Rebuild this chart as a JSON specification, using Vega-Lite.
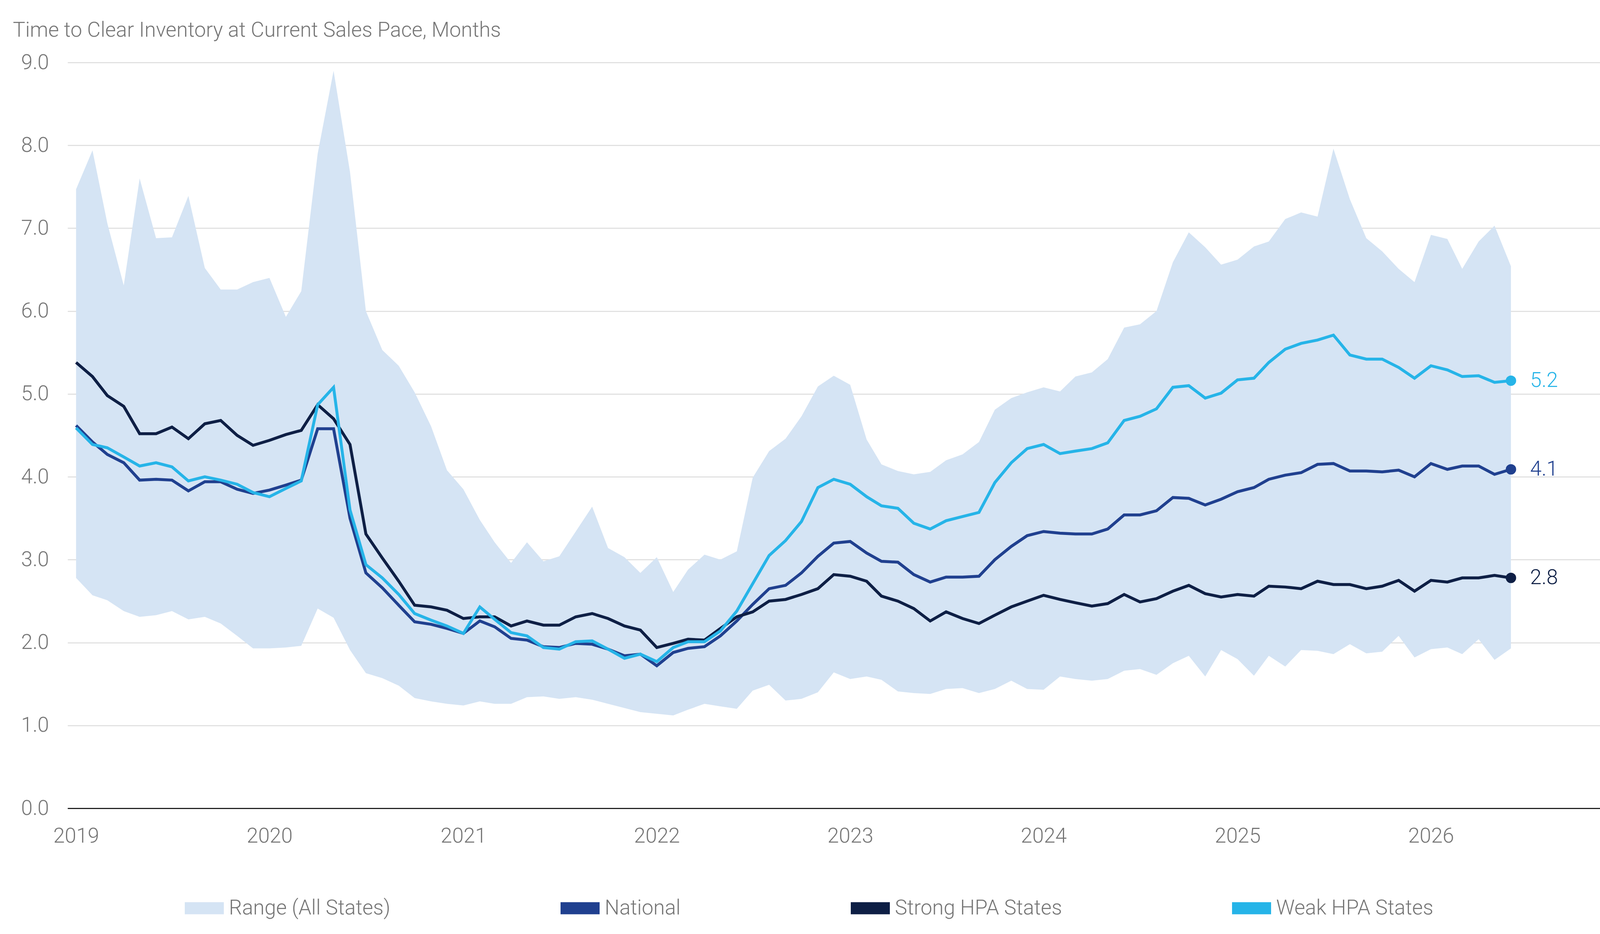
{
  "$schema": "https://vega.github.io/schema/vega-lite/v6.json",
  "width": 4100,
  "height": 2392,
  "autosize": {"type": "fit", "contains": "padding"},
  "padding": {"left": 33, "top": 52, "right": 0, "bottom": 224},
  "background": "white",
  "title": {
    "text": "Time to Clear Inventory at Current Sales Pace, Months",
    "anchor": "start",
    "frame": "group",
    "dx": -140,
    "offset": -13,
    "baseline": "alphabetic",
    "font": "Roboto",
    "fontSize": 53,
    "fontWeight": 300,
    "color": "#767676"
  },
  "config": {
    "view": {"stroke": null},
    "font": "Roboto",
    "axis": {
      "labelFont": "Roboto",
      "labelFontSize": 53,
      "labelFontWeight": 300,
      "labelColor": "#767676",
      "ticks": false,
      "tickSize": 0,
      "title": null
    }
  },
  "data": {
    "values": [
      {"date": "2019-01-01", "hi": 7.47, "lo": 2.78, "nat": 4.62, "strong": 5.38, "weak": 4.59},
      {"date": "2019-02-01", "hi": 7.94, "lo": 2.57, "nat": 4.42, "strong": 5.21, "weak": 4.39},
      {"date": "2019-03-01", "hi": 7.06, "lo": 2.51, "nat": 4.27, "strong": 4.98, "weak": 4.35},
      {"date": "2019-04-01", "hi": 6.31, "lo": 2.38, "nat": 4.17, "strong": 4.85, "weak": 4.24},
      {"date": "2019-05-01", "hi": 7.60, "lo": 2.31, "nat": 3.96, "strong": 4.52, "weak": 4.13},
      {"date": "2019-06-01", "hi": 6.88, "lo": 2.33, "nat": 3.97, "strong": 4.52, "weak": 4.17},
      {"date": "2019-07-01", "hi": 6.89, "lo": 2.38, "nat": 3.96, "strong": 4.60, "weak": 4.12},
      {"date": "2019-08-01", "hi": 7.39, "lo": 2.28, "nat": 3.83, "strong": 4.46, "weak": 3.95},
      {"date": "2019-09-01", "hi": 6.52, "lo": 2.31, "nat": 3.94, "strong": 4.64, "weak": 4.00},
      {"date": "2019-10-01", "hi": 6.26, "lo": 2.23, "nat": 3.94, "strong": 4.68, "weak": 3.96},
      {"date": "2019-11-01", "hi": 6.26, "lo": 2.08, "nat": 3.85, "strong": 4.50, "weak": 3.91},
      {"date": "2019-12-01", "hi": 6.35, "lo": 1.93, "nat": 3.80, "strong": 4.38, "weak": 3.81},
      {"date": "2020-01-01", "hi": 6.40, "lo": 1.93, "nat": 3.84, "strong": 4.44, "weak": 3.76},
      {"date": "2020-02-01", "hi": 5.93, "lo": 1.94, "nat": 3.90, "strong": 4.51, "weak": 3.86},
      {"date": "2020-03-01", "hi": 6.24, "lo": 1.96, "nat": 3.96, "strong": 4.56, "weak": 3.95},
      {"date": "2020-04-01", "hi": 7.90, "lo": 2.41, "nat": 4.58, "strong": 4.87, "weak": 4.87},
      {"date": "2020-05-01", "hi": 8.90, "lo": 2.30, "nat": 4.58, "strong": 4.70, "weak": 5.08},
      {"date": "2020-06-01", "hi": 7.68, "lo": 1.91, "nat": 3.50, "strong": 4.39, "weak": 3.60},
      {"date": "2020-07-01", "hi": 6.00, "lo": 1.63, "nat": 2.84, "strong": 3.31, "weak": 2.94},
      {"date": "2020-08-01", "hi": 5.53, "lo": 1.57, "nat": 2.66, "strong": 3.02, "weak": 2.78},
      {"date": "2020-09-01", "hi": 5.34, "lo": 1.48, "nat": 2.45, "strong": 2.74, "weak": 2.58},
      {"date": "2020-10-01", "hi": 5.02, "lo": 1.33, "nat": 2.25, "strong": 2.45, "weak": 2.35},
      {"date": "2020-11-01", "hi": 4.61, "lo": 1.29, "nat": 2.22, "strong": 2.43, "weak": 2.27},
      {"date": "2020-12-01", "hi": 4.08, "lo": 1.26, "nat": 2.17, "strong": 2.39, "weak": 2.20},
      {"date": "2021-01-01", "hi": 3.85, "lo": 1.24, "nat": 2.11, "strong": 2.29, "weak": 2.11},
      {"date": "2021-02-01", "hi": 3.48, "lo": 1.29, "nat": 2.26, "strong": 2.31, "weak": 2.43},
      {"date": "2021-03-01", "hi": 3.21, "lo": 1.26, "nat": 2.19, "strong": 2.31, "weak": 2.28},
      {"date": "2021-04-01", "hi": 2.96, "lo": 1.26, "nat": 2.05, "strong": 2.20, "weak": 2.12},
      {"date": "2021-05-01", "hi": 3.21, "lo": 1.34, "nat": 2.03, "strong": 2.26, "weak": 2.08},
      {"date": "2021-06-01", "hi": 2.98, "lo": 1.35, "nat": 1.95, "strong": 2.21, "weak": 1.94},
      {"date": "2021-07-01", "hi": 3.04, "lo": 1.32, "nat": 1.94, "strong": 2.21, "weak": 1.92},
      {"date": "2021-08-01", "hi": 3.34, "lo": 1.34, "nat": 1.99, "strong": 2.31, "weak": 2.01},
      {"date": "2021-09-01", "hi": 3.64, "lo": 1.31, "nat": 1.98, "strong": 2.35, "weak": 2.02},
      {"date": "2021-10-01", "hi": 3.14, "lo": 1.26, "nat": 1.92, "strong": 2.29, "weak": 1.92},
      {"date": "2021-11-01", "hi": 3.03, "lo": 1.21, "nat": 1.84, "strong": 2.20, "weak": 1.81},
      {"date": "2021-12-01", "hi": 2.84, "lo": 1.16, "nat": 1.86, "strong": 2.15, "weak": 1.86},
      {"date": "2022-01-01", "hi": 3.03, "lo": 1.14, "nat": 1.72, "strong": 1.94, "weak": 1.77},
      {"date": "2022-02-01", "hi": 2.61, "lo": 1.12, "nat": 1.88, "strong": 1.99, "weak": 1.94},
      {"date": "2022-03-01", "hi": 2.88, "lo": 1.19, "nat": 1.93, "strong": 2.04, "weak": 2.01},
      {"date": "2022-04-01", "hi": 3.06, "lo": 1.26, "nat": 1.95, "strong": 2.03, "weak": 2.01},
      {"date": "2022-05-01", "hi": 3.00, "lo": 1.23, "nat": 2.08, "strong": 2.17, "weak": 2.14},
      {"date": "2022-06-01", "hi": 3.10, "lo": 1.20, "nat": 2.26, "strong": 2.31, "weak": 2.38},
      {"date": "2022-07-01", "hi": 3.99, "lo": 1.42, "nat": 2.46, "strong": 2.37, "weak": 2.71},
      {"date": "2022-08-01", "hi": 4.31, "lo": 1.49, "nat": 2.65, "strong": 2.50, "weak": 3.05},
      {"date": "2022-09-01", "hi": 4.46, "lo": 1.30, "nat": 2.69, "strong": 2.52, "weak": 3.23},
      {"date": "2022-10-01", "hi": 4.73, "lo": 1.32, "nat": 2.84, "strong": 2.58, "weak": 3.46},
      {"date": "2022-11-01", "hi": 5.09, "lo": 1.40, "nat": 3.04, "strong": 2.65, "weak": 3.87},
      {"date": "2022-12-01", "hi": 5.22, "lo": 1.64, "nat": 3.20, "strong": 2.82, "weak": 3.97},
      {"date": "2023-01-01", "hi": 5.11, "lo": 1.56, "nat": 3.22, "strong": 2.80, "weak": 3.91},
      {"date": "2023-02-01", "hi": 4.45, "lo": 1.59, "nat": 3.08, "strong": 2.74, "weak": 3.76},
      {"date": "2023-03-01", "hi": 4.15, "lo": 1.55, "nat": 2.98, "strong": 2.56, "weak": 3.65},
      {"date": "2023-04-01", "hi": 4.07, "lo": 1.41, "nat": 2.97, "strong": 2.50, "weak": 3.62},
      {"date": "2023-05-01", "hi": 4.03, "lo": 1.39, "nat": 2.82, "strong": 2.41, "weak": 3.44},
      {"date": "2023-06-01", "hi": 4.06, "lo": 1.38, "nat": 2.73, "strong": 2.26, "weak": 3.37},
      {"date": "2023-07-01", "hi": 4.20, "lo": 1.44, "nat": 2.79, "strong": 2.37, "weak": 3.47},
      {"date": "2023-08-01", "hi": 4.27, "lo": 1.45, "nat": 2.79, "strong": 2.29, "weak": 3.52},
      {"date": "2023-09-01", "hi": 4.42, "lo": 1.39, "nat": 2.80, "strong": 2.23, "weak": 3.57},
      {"date": "2023-10-01", "hi": 4.81, "lo": 1.44, "nat": 3.00, "strong": 2.33, "weak": 3.93},
      {"date": "2023-11-01", "hi": 4.95, "lo": 1.54, "nat": 3.16, "strong": 2.43, "weak": 4.17},
      {"date": "2023-12-01", "hi": 5.02, "lo": 1.44, "nat": 3.29, "strong": 2.50, "weak": 4.34},
      {"date": "2024-01-01", "hi": 5.08, "lo": 1.43, "nat": 3.34, "strong": 2.57, "weak": 4.39},
      {"date": "2024-02-01", "hi": 5.03, "lo": 1.59, "nat": 3.32, "strong": 2.52, "weak": 4.28},
      {"date": "2024-03-01", "hi": 5.21, "lo": 1.56, "nat": 3.31, "strong": 2.48, "weak": 4.31},
      {"date": "2024-04-01", "hi": 5.26, "lo": 1.54, "nat": 3.31, "strong": 2.44, "weak": 4.34},
      {"date": "2024-05-01", "hi": 5.42, "lo": 1.56, "nat": 3.37, "strong": 2.47, "weak": 4.41},
      {"date": "2024-06-01", "hi": 5.80, "lo": 1.66, "nat": 3.54, "strong": 2.58, "weak": 4.68},
      {"date": "2024-07-01", "hi": 5.84, "lo": 1.68, "nat": 3.54, "strong": 2.49, "weak": 4.73},
      {"date": "2024-08-01", "hi": 6.00, "lo": 1.61, "nat": 3.59, "strong": 2.53, "weak": 4.82},
      {"date": "2024-09-01", "hi": 6.59, "lo": 1.75, "nat": 3.75, "strong": 2.62, "weak": 5.08},
      {"date": "2024-10-01", "hi": 6.95, "lo": 1.84, "nat": 3.74, "strong": 2.69, "weak": 5.10},
      {"date": "2024-11-01", "hi": 6.77, "lo": 1.59, "nat": 3.66, "strong": 2.59, "weak": 4.95},
      {"date": "2024-12-01", "hi": 6.56, "lo": 1.91, "nat": 3.73, "strong": 2.55, "weak": 5.01},
      {"date": "2025-01-01", "hi": 6.62, "lo": 1.80, "nat": 3.82, "strong": 2.58, "weak": 5.17},
      {"date": "2025-02-01", "hi": 6.78, "lo": 1.60, "nat": 3.87, "strong": 2.56, "weak": 5.19},
      {"date": "2025-03-01", "hi": 6.84, "lo": 1.84, "nat": 3.97, "strong": 2.68, "weak": 5.38},
      {"date": "2025-04-01", "hi": 7.11, "lo": 1.71, "nat": 4.02, "strong": 2.67, "weak": 5.54},
      {"date": "2025-05-01", "hi": 7.19, "lo": 1.91, "nat": 4.05, "strong": 2.65, "weak": 5.61},
      {"date": "2025-06-01", "hi": 7.14, "lo": 1.90, "nat": 4.15, "strong": 2.74, "weak": 5.65},
      {"date": "2025-07-01", "hi": 7.96, "lo": 1.86, "nat": 4.16, "strong": 2.70, "weak": 5.71},
      {"date": "2025-08-01", "hi": 7.35, "lo": 1.98, "nat": 4.07, "strong": 2.70, "weak": 5.47},
      {"date": "2025-09-01", "hi": 6.88, "lo": 1.87, "nat": 4.07, "strong": 2.65, "weak": 5.42},
      {"date": "2025-10-01", "hi": 6.72, "lo": 1.89, "nat": 4.06, "strong": 2.68, "weak": 5.42},
      {"date": "2025-11-01", "hi": 6.51, "lo": 2.08, "nat": 4.08, "strong": 2.75, "weak": 5.32},
      {"date": "2025-12-01", "hi": 6.35, "lo": 1.82, "nat": 4.00, "strong": 2.62, "weak": 5.19},
      {"date": "2026-01-01", "hi": 6.92, "lo": 1.92, "nat": 4.16, "strong": 2.75, "weak": 5.34},
      {"date": "2026-02-01", "hi": 6.87, "lo": 1.94, "nat": 4.09, "strong": 2.73, "weak": 5.29},
      {"date": "2026-03-01", "hi": 6.51, "lo": 1.86, "nat": 4.13, "strong": 2.78, "weak": 5.21},
      {"date": "2026-04-01", "hi": 6.84, "lo": 2.04, "nat": 4.13, "strong": 2.78, "weak": 5.22},
      {"date": "2026-05-01", "hi": 7.03, "lo": 1.79, "nat": 4.03, "strong": 2.81, "weak": 5.14},
      {"date": "2026-06-01", "hi": 6.54, "lo": 1.93, "nat": 4.09, "strong": 2.78, "weak": 5.16}
    ]
  },
  "encoding": {
    "x": {
      "field": "date",
      "type": "temporal",
      "scale": {
        "type": "utc",
        "domain": [
          {"year": 2018, "month": 12, "date": 16, "utc": true},
          {"year": 2026, "month": 11, "date": 19, "utc": true}
        ]
      },
      "axis": {
        "format": "%Y",
        "tickCount": {"interval": "year", "step": 1},
        "grid": false,
        "domainColor": "#000000",
        "domainWidth": 2.5,
        "labelPadding": 45,
        "labelAlign": "center",
        "labelFlush": false,
        "labelOverlap": false
      }
    }
  },
  "layer": [
    {
      "mark": {"type": "area", "opacity": 1},
      "encoding": {
        "y": {
          "field": "lo",
          "type": "quantitative",
          "scale": {"domain": [0, 9], "nice": false},
          "axis": {
            "values": [0, 1, 2, 3, 4, 5, 6, 7, 8, 9],
            "format": ".1f",
            "domain": false,
            "gridColor": "#dcdcdc",
            "gridWidth": 2.5,
            "labelPadding": 48
          }
        },
        "y2": {"field": "hi"},
        "color": {
          "datum": "range",
          "type": "nominal",
          "scale": {
            "domain": ["range", "nat", "strong", "weak"],
            "range": ["#d5e4f4", "#20408f", "#0e1f45", "#26b4e8"]
          },
          "legend": {
            "title": null,
            "orient": "none",
            "legendX": 300,
            "legendY": {"expr": "height + 206"},
            "direction": "horizontal",
            "columns": 4,
            "columnPadding": 435,
            "padding": 0,
            "symbolSize": 10000,
            "symbolType": "M-1,-0.31H1V0.31H-1Z",
            "symbolStrokeWidth": 0,
            "labelOffset": 13,
            "labelFont": "Roboto",
            "labelFontSize": 53,
            "labelFontWeight": 300,
            "labelColor": "#767676",
            "labelLimit": 1000,
            "labelExpr": "datum.value == 'range' ? 'Range (All States)' : datum.value == 'nat' ? 'National' : datum.value == 'strong' ? 'Strong HPA States' : 'Weak HPA States'",
            "encode": {
              "symbols": {
                "update": {
                  "shape": {"signal": "datum.value == 'range' ? 'M-1,-0.31H1V0.31H-1Z' : 'M-1,-0.1H1V0.1H-1Z'"}
                }
              }
            }
          }
        }
      }
    },
    {
      "transform": [{"fold": ["nat", "strong", "weak"], "as": ["series", "value"]}],
      "mark": {"type": "line", "strokeWidth": 7.5},
      "encoding": {
        "y": {"field": "value", "type": "quantitative"},
        "color": {"field": "series", "type": "nominal", "legend": {"title": null}}
      }
    },
    {
      "transform": [
        {"fold": ["nat", "strong", "weak"], "as": ["series", "value"]},
        {"filter": "year(datum.date) == 2026 && month(datum.date) == 5"}
      ],
      "mark": {"type": "point", "filled": true, "size": 707, "opacity": 1},
      "encoding": {
        "y": {"field": "value", "type": "quantitative"},
        "color": {"field": "series", "type": "nominal", "legend": {"title": null}}
      }
    },
    {
      "transform": [
        {"fold": ["nat", "strong", "weak"], "as": ["series", "value"]},
        {"filter": "year(datum.date) == 2026 && month(datum.date) == 5"}
      ],
      "mark": {
        "type": "text",
        "align": "left",
        "baseline": "middle",
        "dx": 49,
        "font": "Roboto",
        "fontSize": 53,
        "fontWeight": 300
      },
      "encoding": {
        "y": {"field": "value", "type": "quantitative"},
        "color": {"field": "series", "type": "nominal", "legend": {"title": null}},
        "text": {"field": "value", "type": "quantitative", "format": ".1f"}
      }
    }
  ]
}
